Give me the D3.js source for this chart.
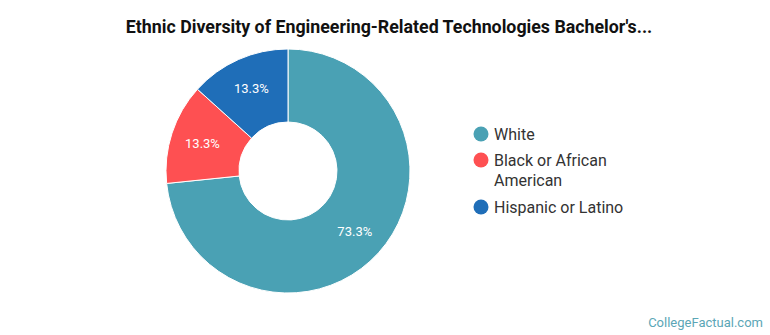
<!DOCTYPE html>
<html>
<head>
<meta charset="utf-8">
<script src="https://cdn.jsdelivr.net/npm/d3@7"></script>
<style>
  body { margin: 0; background: #fff; }
  svg { display: block; font-family: Roboto, "Open Sans", sans-serif; }
</style>
</head>
<body>
<svg id="chart" width="770" height="335"></svg>
<script>
// Data
const categories = ["White", "Black or African American", "Hispanic or Latino"];
const values = [73.3, 13.3, 13.3];
const colors = ["#4aa1b4", "#fe5052", "#1f6eb8"];
const legendLines = [["White"], ["Black or African", "American"], ["Hispanic or Latino"]];

const svg = d3.select("#chart");

// Title
svg.append("text")
    .attr("x", 389)
    .attr("y", 33)
    .attr("text-anchor", "middle")
    .style("font-size", "17.8px")
    .style("font-weight", "bold")
    .style("fill", "#111")
    .text("Ethnic Diversity of Engineering-Related Technologies Bachelor's...");

// Donut
const cx = 288, cy = 171;
const outerR = 122, innerR = 49, labelR = 90;

const data = categories.map((c, i) => ({ name: c, value: values[i], color: colors[i] }));

const pie = d3.pie().value(d => d.value).sort(null);
const arc = d3.arc().innerRadius(innerR).outerRadius(outerR);
const labelArc = d3.arc().innerRadius(labelR).outerRadius(labelR);

const g = svg.append("g").attr("transform", `translate(${cx},${cy})`);
const arcs = pie(data);

g.selectAll("path")
    .data(arcs)
    .join("path")
    .attr("d", arc)
    .attr("fill", d => d.data.color)
    .attr("stroke", "#fff")
    .attr("stroke-width", 1);

g.selectAll("text.lbl")
    .data(arcs)
    .join("text")
    .attr("class", "lbl")
    .attr("transform", d => `translate(${labelArc.centroid(d)})`)
    .attr("text-anchor", "middle")
    .attr("dy", "0.35em")
    .style("font-size", "13px")
    .style("fill", "#fff")
    .text(d => d3.format(".1f")(d.data.value) + "%");

// Legend
const legendY = [134, 160, 207];
const lg = svg.append("g");
data.forEach((d, i) => {
    lg.append("circle")
        .attr("cx", 481)
        .attr("cy", legendY[i])
        .attr("r", 7.5)
        .attr("fill", d.color);
    const t = lg.append("text")
        .attr("x", 494)
        .attr("y", legendY[i])
        .style("font-size", "16px")
        .style("fill", "#333");
    legendLines[i].forEach((line, j) => {
        t.append("tspan")
            .attr("x", 494)
            .attr("dy", j === 0 ? "0.35em" : "1.3em")
            .text(line);
    });
});

// Watermark
svg.append("text")
    .attr("x", 763)
    .attr("y", 327)
    .attr("text-anchor", "end")
    .style("font-size", "13px")
    .style("fill", "#5ba6b6")
    .text("CollegeFactual.com");
</script>
</body>
</html>
